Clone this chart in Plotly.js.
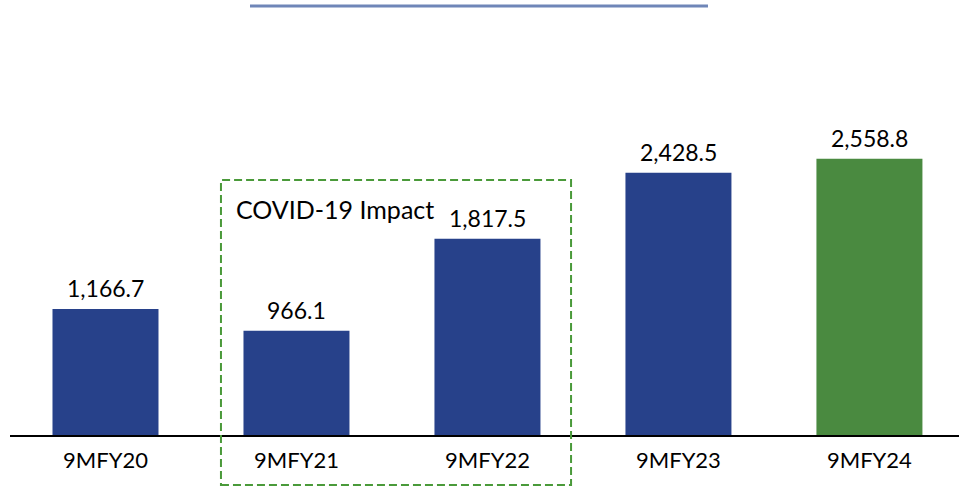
<!DOCTYPE html>
<html>
<head>
<meta charset="utf-8">
<script src="https://cdn.plot.ly/plotly-3.0.1.min.js"></script>
<style>html,body{margin:0;padding:0;background:#fff;}#chart{width:959px;height:488px;}</style>
</head>
<body>
<div id="chart"></div>
<script>
const categories = ["9MFY20", "9MFY21", "9MFY22", "9MFY23", "9MFY24"];
const values = [1166.7, 966.1, 1817.5, 2428.5, 2558.8];
const valueLabels = ["1,166.7", "966.1", "1,817.5", "2,428.5", "2,558.8"];
const barColors = ["#27418A", "#27418A", "#27418A", "#27418A", "#4A8A40"];
const boxLabel = "COVID-19 Impact";

const fontFam = "Lato, 'Open Sans', sans-serif";

const trace = {
  type: "bar",
  x: categories,
  y: values,
  marker: {color: barColors},
  hoverinfo: "none"
};

const valueAnnotations = categories.map((c, i) => ({
  x: c, y: values[i], xref: "x", yref: "y",
  text: valueLabels[i], showarrow: false,
  xanchor: "center", yanchor: "bottom", yshift: 5,
  font: {family: fontFam, size: 23, color: "#000"}
}));

const layout = {
  width: 959, height: 488,
  margin: {l: 10, r: 0, t: 0, b: 53},
  paper_bgcolor: "#fff", plot_bgcolor: "#fff",
  showlegend: false,
  bargap: 0.445,
  xaxis: {
    type: "category",
    range: [-0.5, 4.469],
    showline: true, linecolor: "#000", linewidth: 2,
    ticks: "", showgrid: false, zeroline: false,
    ticklabelstandoff: 5,
    tickfont: {family: fontFam, size: 22, color: "#000"}
  },
  yaxis: {
    range: [0, 4030],
    visible: false, showgrid: false, zeroline: false
  },
  shapes: [
    {type: "rect", xref: "paper", yref: "paper",
     x0: 0.2223, x1: 0.5912, y0: -0.115, y1: 0.586,
     line: {color: "#4A9A3A", width: 2, dash: "8px,4px"}, fillcolor: "rgba(0,0,0,0)"},
    {type: "line", xref: "paper", yref: "paper",
     x0: 0.2529, x1: 0.7355, y0: 0.986, y1: 0.986,
     line: {color: "#6F86B8", width: 3}}
  ],
  annotations: valueAnnotations.concat([
    {text: boxLabel, xref: "paper", yref: "paper", x: 0.236, y: 0.52,
     xanchor: "left", yanchor: "middle", showarrow: false,
     font: {family: fontFam, size: 25, color: "#000"}}
  ])
};

Plotly.newPlot("chart", [trace], layout, {staticPlot: true, displayModeBar: false});
</script>
</body>
</html>
